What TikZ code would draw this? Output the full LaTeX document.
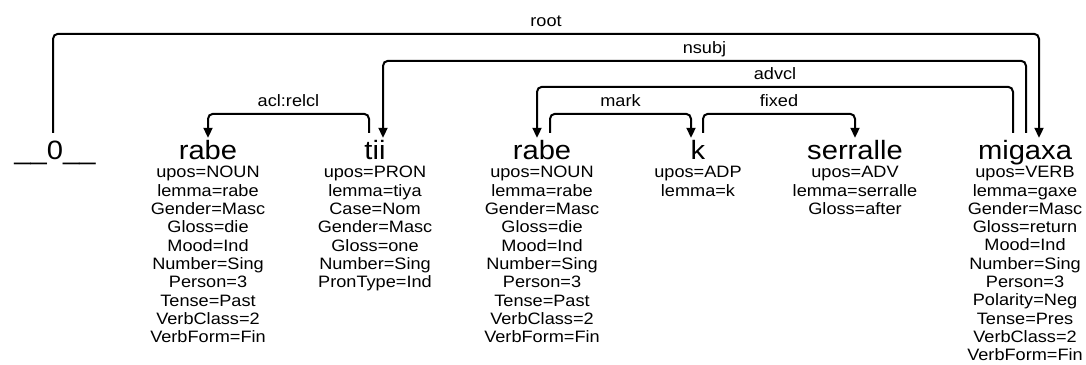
\documentclass[tikz,border=0pt]{standalone}
\usepackage{fontspec}
\setmainfont{Liberation Sans}[FakeStretch=1.1]
\usepackage{tikz}
\usetikzlibrary{positioning,arrows.meta}
\newcommand{\wordfont}{\fontsize{26.5}{30}\selectfont}
\newcommand{\featfont}{\fontsize{16.5}{18.3}\selectfont}
\newcommand{\deprel}[6]{
  \draw [dep] ([xshift=#2]#1.north) -- ++(0,#5) -| node [rel] {#6} ([xshift=#4]#3.north)
}
\tikzset{
  word/.style={anchor=base, inner sep=0pt, text height=20pt, text depth=6pt, font=\wordfont},
  feats/.style={inner sep=0pt, align=center, font=\featfont},
  dep/.style={line width=2pt, rounded corners=5pt, shorten <=6pt, shorten >=1pt,
    -{Triangle[length=10pt,width=9pt]}},
  rel/.style={pos=0.25, anchor=base, yshift=7.5pt, inner sep=0pt, font=\featfont}
}

\begin{document}
\begin{tikzpicture}[x=1pt,y=1pt]
\useasboundingbox (0,0) rectangle (1086,-364);

% words
\node [word] (W0) at (  55,-159) {\_\_0\_\_};
\node [word] (W1) at ( 208,-159) {rabe};
\node [word] (W2) at ( 375,-159) {tii};
\node [word] (W3) at ( 542,-159) {rabe};
\node [word] (W4) at ( 698,-159) {k};
\node [word] (W5) at ( 855,-159) {serralle};
\node [word] (W6) at (1025,-159) {migaxa};

% features of W1
\node [feats, below=1pt of W1] (F1) {upos=NOUN\\lemma=rabe\\Gender=Masc\\Gloss=die\\Mood=Ind\\Number=Sing\\Person=3\\Tense=Past\\VerbClass=2\\VerbForm=Fin};

% features of W2
\node [feats, below=1pt of W2] (F2) {upos=PRON\\lemma=tiya\\Case=Nom\\Gender=Masc\\Gloss=one\\Number=Sing\\PronType=Ind};

% features of W3
\node [feats, below=1pt of W3] (F3) {upos=NOUN\\lemma=rabe\\Gender=Masc\\Gloss=die\\Mood=Ind\\Number=Sing\\Person=3\\Tense=Past\\VerbClass=2\\VerbForm=Fin};

% features of W4
\node [feats, below=1pt of W4] (F4) {upos=ADP\\lemma=k};

% features of W5
\node [feats, below=1pt of W5] (F5) {upos=ADV\\lemma=serralle\\Gloss=after};

% features of W6
\node [feats, below=1pt of W6] (F6) {upos=VERB\\lemma=gaxe\\Gender=Masc\\Gloss=return\\Mood=Ind\\Number=Sing\\Person=3\\Polarity=Neg\\Tense=Pres\\VerbClass=2\\VerbForm=Fin};

% connect root
\deprel {W0} {-2pt} {W6} {14pt} {105} {root};

% connect W6
\deprel {W6} {1pt} {W2} {8pt} {78} {nsubj};
\deprel {W6} {-12pt} {W3} {-5pt} {52} {advcl};

% connect W3
\deprel {W3} {8pt} {W4} {-7pt} {25} {mark};

% connect W4
\deprel {W4} {5pt} {W5} {0pt} {25} {fixed};

% connect W2
\deprel {W2} {-6pt} {W1} {0pt} {25} {acl:relcl};

\end{tikzpicture}
\end{document}
